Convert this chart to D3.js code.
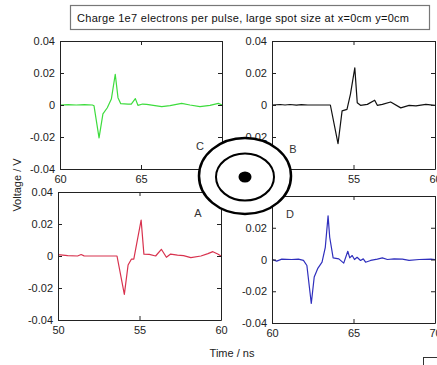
<!DOCTYPE html>
<html><head><meta charset="utf-8">
<script src="https://cdn.jsdelivr.net/npm/d3@7"></script>
<style>body{margin:0;background:#fff}svg{display:block}text{font-family:"Liberation Sans",Arial,sans-serif}</style>
</head><body>
<script>
const titleText = "Charge 1e7 electrons per pulse, large spot size at x=0cm y=0cm";
const yTicks = [-0.04, -0.02, 0, 0.02, 0.04];
const tickLabels = {"-0.04":"-0.04","-0.02":"-0.02","0":"0","0.02":"0.02","0.04":"0.04"};

// Panel C (green), time ns / voltage V
const seriesC_t = [60,60.5,61,61.5,62.0,62.1,62.41,62.65,62.92,63.17,63.41,63.58,63.75,64.2,64.4,64.65,64.81,65.1,65.35,65.76,66.28,66.79,67.51,68.02,68.64,69.26,69.77,70];
const seriesC_v = [0,0.0002,0,0.0002,0,-0.0005,-0.0206,-0.0056,-0.0017,0.0037,0.0192,0.0046,0.0008,0.0006,0.0006,0.004,-0.0002,0.0006,0.0004,-0.0002,-0.001,-0.0004,0.001,0,-0.001,-0.0002,0.001,0];
// Panel B (black)
const seriesB_t = [50,50.5,50.8,51.1,51.5,51.8,52.2,53.58,54.05,54.3,54.6,54.81,55.08,55.23,55.43,55.85,56.3,56.46,56.77,57.28,57.9,58.41,58.83,59.44,60];
const seriesB_v = [0,0.0003,0,0.0003,-0.0001,0.0002,0,0,-0.0242,-0.0037,-0.0027,0.0067,0.0232,0.0014,-0.0002,0.0004,0.003,-0.0002,0.0004,0.0019,-0.0018,-0.0002,-0.0006,0.0004,-0.0002];
// Panel A (red)
const seriesA_t = [50,50.6,51.2,51.42,51.6,52.5,53.62,54.07,54.3,54.5,54.65,55.1,55.27,55.6,55.99,56.34,56.65,56.91,57.33,57.7,58.15,58.77,59.2,59.5,59.8,60];
const seriesA_v = [0.0008,0.0002,0,0.0009,0.0001,0,0,-0.024,-0.0056,-0.002,-0.002,0.0225,0.0012,0.001,0,0.0042,-0.0008,0.0012,0.0006,0.0002,-0.001,0,0.0015,0.0027,0.0012,0];
// Panel D (blue)
const seriesD_t = [60,60.29,60.6,61.2,61.62,61.93,62.14,62.41,62.59,62.8,63.07,63.27,63.44,63.54,63.75,64.1,64.4,64.65,64.77,64.92,65.06,65.22,65.43,65.6,65.74,66.05,66.46,66.77,67.08,67.49,68.0,68.41,69.03,69.75,70];
const seriesD_v = [0,-0.001,0.0002,0,0.0002,-0.0006,-0.0038,-0.0277,-0.011,-0.0058,-0.0017,0.0077,0.0275,0.014,0.001,0.0004,-0.0023,0.0052,0.001,0.0025,0,0.0014,-0.0006,0.0004,-0.0017,-0.0006,0.0002,0.001,0,0.0004,0.0002,-0.0006,0,0.0002,0];

const panels = [
  {name:"C", t:seriesC_t, v:seriesC_v, xd:[60,70], xt:[60,65,70], color:"#3ddc3d", box:[60,41,222,169], lab:[200,150]},
  {name:"B", t:seriesB_t, v:seriesB_v, xd:[50,60], xt:[50,55,60], color:"#111111", box:[272,41,435,169], lab:[293,153]},
  {name:"A", t:seriesA_t, v:seriesA_v, xd:[50,60], xt:[50,55,60], color:"#d8324e", box:[58,192,221,320], lab:[198,217]},
  {name:"D", t:seriesD_t, v:seriesD_v, xd:[60,70], xt:[60,65,70], color:"#2f2fbd", box:[272,196,435,323], lab:[290,218]}
];

const W=437,H=365;
const svg=d3.select("body").append("svg").attr("width",W).attr("height",H);

panels.forEach(p=>{
  const [x0,y0,x1,y1]=p.box;
  const x=d3.scaleLinear().domain(p.xd).range([x0,x1]);
  const y=d3.scaleLinear().domain([-0.04,0.04]).range([y1,y0]);
  const g=svg.append("g");
  const data=p.t.map((t,i)=>[t,p.v[i]]);
  g.append("path").datum(data).attr("fill","none").attr("stroke",p.color).attr("stroke-width",1.2)
    .attr("stroke-linejoin","round")
    .attr("d",d3.line().x(d=>x(d[0])).y(d=>y(d[1])));
  const ax=(gen,tr)=>{const a=g.append("g").attr("transform",tr).call(gen);
    a.select(".domain").attr("stroke","#222");
    a.selectAll(".tick line").attr("stroke","#222");
    a.selectAll("text").attr("fill","#222").style("font-size","11px");
    return a;};
  ax(d3.axisLeft(y).tickValues(yTicks).tickSize(-4).tickPadding(5).tickSizeOuter(0).tickFormat(d=>tickLabels[String(d)]),`translate(${x0},0)`);
  ax(d3.axisRight(y).tickValues(yTicks).tickSize(-4).tickSizeOuter(0).tickFormat(""),`translate(${x1},0)`);
  ax(d3.axisBottom(x).tickValues(p.xt).tickSize(-4).tickPadding(6).tickSizeOuter(0).tickFormat(d3.format("d")),`translate(0,${y1})`);
  ax(d3.axisTop(x).tickValues(p.xt).tickSize(-4).tickSizeOuter(0).tickFormat(""),`translate(0,${y0})`);
  g.append("text").attr("x",p.lab[0]).attr("y",p.lab[1]).attr("text-anchor","middle")
    .style("font-size","11px").attr("fill","#333").text(p.name);
});

// target symbol
const tg=svg.append("g");
tg.append("ellipse").attr("cx",245).attr("cy",176).attr("rx",46).attr("ry",38).attr("fill","#fff").attr("stroke","#000").attr("stroke-width",2.5);
tg.append("ellipse").attr("cx",245).attr("cy",177).attr("rx",29).attr("ry",23.5).attr("fill","#fff").attr("stroke","#000").attr("stroke-width",2);
tg.append("ellipse").attr("cx",245).attr("cy",177).attr("rx",6.5).attr("ry",5.5).attr("fill","#000");

// title box
svg.append("rect").attr("x",70.5).attr("y",5.5).attr("width",359).attr("height",24).attr("fill","#fff").attr("stroke","#777").attr("stroke-width",1.2);
svg.append("text").attr("x",77).attr("y",21.5).style("font-size","11px").attr("textLength",332).attr("lengthAdjust","spacing").attr("fill","#111").text(titleText);

// axis labels
svg.append("text").attr("transform","translate(21,185) rotate(-90)").attr("text-anchor","middle").style("font-size","11px").attr("fill","#222").text("Voltage / V");
svg.append("text").attr("x",232).attr("y",357).attr("text-anchor","middle").style("font-size","11px").attr("fill","#222").text("Time / ns");

// small corner box
svg.append("rect").attr("x",423.5).attr("y",357.5).attr("width",20).attr("height",12).attr("fill","#fff").attr("stroke","#333");
</script>
</body></html>
